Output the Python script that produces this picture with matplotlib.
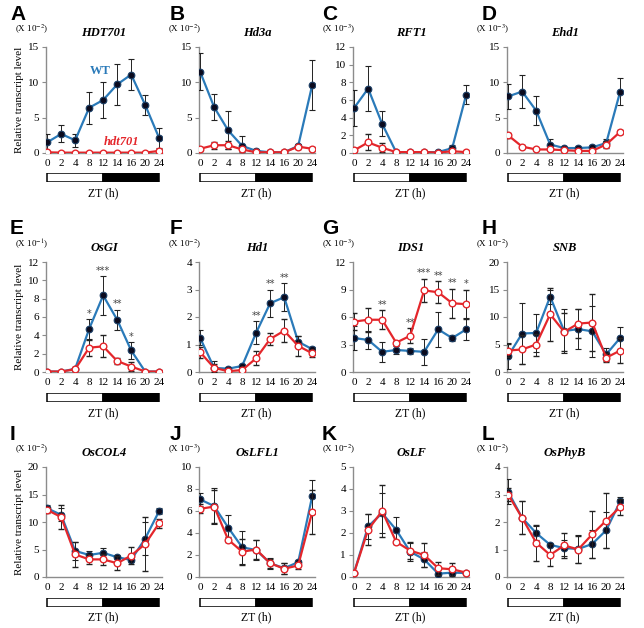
import matplotlib.pyplot as plt
import numpy as np

plt.rcParams['font.family'] = ['Liberation Serif', 'DejaVu Serif']
plt.rcParams['mathtext.fontset'] = 'stix'

# time points (ZT, hours) - plotted as equally spaced categories
zt = ['0', '2', '4', '8', '12', '14', '16', '20', '24']

letters = ['A', 'B', 'C', 'D', 'E', 'F', 'G', 'H', 'I', 'J', 'K', 'L']
genes = ['HDT701', 'Hd3a', 'RFT1', 'Ehd1', 'OsGI', 'Hd1',
         'IDS1', 'SNB', 'OsCOL4', 'OsLFL1', 'OsLF', 'OsPhyB']
exps = [-2, -2, -3, -3, -1, -2, -3, -2, -2, -3, -2, -2]
ymax = [15, 15, 12, 15, 12, 4, 12, 20, 20, 10, 5, 4]
ystep = [5, 5, 2, 5, 2, 1, 3, 5, 5, 2, 1, 1]

# A HDT701
hdt701_wt = [1.5, 2.7, 1.8, 6.4, 7.5, 9.7, 11.1, 6.8, 2.1]
hdt701_wt_err = [1.2, 1.2, 0.9, 2.3, 2.6, 2.9, 2.2, 1.4, 1.4]
hdt701_mut = [0.1, 0.05, 0.05, 0.05, 0.05, 0.05, 0.05, 0.05, 0.3]
hdt701_mut_err = [0.1, 0.05, 0.05, 0.05, 0.05, 0.05, 0.05, 0.05, 0.1]
# B Hd3a
hd3a_wt = [11.5, 6.5, 3.2, 1.0, 0.3, 0.1, 0.1, 1.0, 9.6]
hd3a_wt_err = [2.6, 1.8, 2.7, 1.4, 0.2, 0.1, 0.1, 0.3, 3.5]
hd3a_mut = [0.6, 1.1, 1.1, 0.5, 0.1, 0.1, 0.1, 0.9, 0.6]
hd3a_mut_err = [0.3, 0.5, 0.6, 0.3, 0.1, 0.1, 0.1, 0.3, 0.3]
# C RFT1
rft1_wt = [5.1, 7.3, 3.3, 0.1, 0.1, 0.1, 0.1, 0.55, 6.6]
rft1_wt_err = [2.0, 2.6, 1.4, 0.05, 0.05, 0.05, 0.05, 0.3, 1.1]
rft1_mut = [0.3, 1.2, 0.6, 0.1, 0.1, 0.1, 0.05, 0.2, 0.1]
rft1_mut_err = [0.2, 0.9, 0.5, 0.1, 0.05, 0.05, 0.05, 0.1, 0.1]
# D Ehd1
ehd1_wt = [8.0, 8.7, 6.0, 1.2, 0.7, 0.7, 0.8, 1.4, 8.7]
ehd1_wt_err = [1.8, 2.4, 2.1, 0.8, 0.2, 0.3, 0.4, 0.6, 1.9]
ehd1_mut = [2.5, 0.9, 0.5, 0.5, 0.4, 0.3, 0.3, 1.2, 3.0]
ehd1_mut_err = [0.4, 0.2, 0.1, 0.1, 0.1, 0.1, 0.1, 0.5, 0.3]
# E OsGI
osgi_wt = [0.05, 0.05, 0.35, 4.7, 8.35, 5.7, 2.35, 0.05, 0.05]
osgi_wt_err = [0.05, 0.05, 0.2, 1.05, 2.1, 1.1, 0.9, 0.05, 0.05]
osgi_mut = [0.05, 0.05, 0.3, 2.65, 2.8, 1.2, 0.6, 0.05, 0.05]
osgi_mut_err = [0.05, 0.05, 0.1, 0.85, 1.2, 0.3, 0.5, 0.05, 0.05]
osgi_stars = ['', '', '', '*', '***', '**', '*', '', '']
# F Hd1
hd1_wt = [1.24, 0.15, 0.12, 0.22, 1.43, 2.5, 2.72, 1.1, 0.83]
hd1_wt_err = [0.27, 0.25, 0.05, 0.08, 0.42, 0.5, 0.5, 0.2, 0.08]
hd1_mut = [0.72, 0.15, 0.03, 0.07, 0.5, 1.2, 1.5, 0.95, 0.68]
hd1_mut_err = [0.2, 0.15, 0.03, 0.1, 0.25, 0.22, 0.42, 0.35, 0.15]
hd1_stars = ['', '', '', '', '**', '**', '**', '', '']
# G IDS1
ids1_wt = [3.7, 3.5, 2.2, 2.4, 2.3, 2.2, 4.65, 3.7, 4.65]
ids1_wt_err = [1.3, 1.0, 1.1, 0.4, 0.3, 1.4, 1.95, 0.35, 1.2]
ids1_mut = [5.5, 5.7, 5.7, 3.2, 3.95, 8.9, 8.7, 7.5, 7.4]
ids1_mut_err = [0.9, 1.3, 1.05, 0.2, 0.8, 1.3, 1.2, 1.6, 1.6]
ids1_stars = ['', '', '**', '', '**', '***', '**', '**', '*']
# H SNB
snb_wt = [2.9, 7.0, 7.1, 13.7, 7.45, 7.8, 7.4, 3.2, 6.2]
snb_wt_err = [2.3, 5.6, 3.5, 1.3, 4.0, 3.7, 4.6, 1.2, 2.0]
snb_mut = [3.9, 4.1, 5.0, 10.5, 7.3, 8.8, 9.0, 2.6, 3.9]
snb_mut_err = [1.2, 2.7, 2.0, 4.8, 3.5, 2.6, 5.2, 0.8, 2.3]
# I OsCOL4
oscol4_wt = [12.5, 11.3, 4.75, 4.0, 4.4, 3.6, 3.1, 7.0, 12.0]
oscol4_wt_err = [0.6, 1.2, 1.7, 0.8, 0.9, 0.4, 0.3, 3.0, 0.5]
oscol4_mut = [12.2, 10.9, 4.1, 3.2, 3.2, 2.5, 3.9, 6.0, 9.8]
oscol4_mut_err = [0.5, 2.2, 2.3, 0.9, 1.0, 1.3, 1.5, 4.9, 0.8]
# J OsLFL1
oslfl1_wt = [7.05, 6.45, 4.5, 2.7, 2.45, 1.25, 0.8, 1.35, 7.35]
oslfl1_wt_err = [0.6, 1.6, 1.1, 1.5, 0.9, 0.5, 0.5, 0.2, 1.5]
oslfl1_mut = [6.2, 6.4, 3.4, 2.3, 2.5, 1.25, 0.75, 1.05, 5.9]
oslfl1_mut_err = [0.4, 1.5, 0.2, 1.2, 0.9, 0.4, 0.5, 0.3, 2.0]
# K OsLF
oslf_wt = [0.2, 2.3, 2.9, 2.15, 1.15, 0.8, 0.15, 0.2, 0.18]
oslf_wt_err = [0.05, 0.55, 0.9, 0.6, 0.4, 0.35, 0.1, 0.1, 0.05]
oslf_mut = [0.2, 2.15, 3.0, 1.6, 1.2, 1.0, 0.4, 0.35, 0.2]
oslf_mut_err = [0.05, 0.7, 1.2, 0.1, 0.4, 0.55, 0.3, 0.3, 0.05]
# L OsPhyB
osphyb_wt = [3.1, 2.15, 1.6, 1.17, 1.05, 1.02, 1.2, 1.7, 2.75]
osphyb_wt_err = [0.45, 0.6, 0.25, 0.05, 0.3, 0.5, 0.5, 0.65, 0.15]
osphyb_mut = [3.0, 2.15, 1.25, 0.8, 1.15, 1.0, 1.55, 2.05, 2.55]
osphyb_mut_err = [0.25, 0.6, 0.65, 0.4, 0.45, 0.5, 0.85, 1.0, 0.3]

wt_all = [hdt701_wt, hd3a_wt, rft1_wt, ehd1_wt, osgi_wt, hd1_wt,
          ids1_wt, snb_wt, oscol4_wt, oslfl1_wt, oslf_wt, osphyb_wt]
wt_err_all = [hdt701_wt_err, hd3a_wt_err, rft1_wt_err, ehd1_wt_err, osgi_wt_err, hd1_wt_err,
              ids1_wt_err, snb_wt_err, oscol4_wt_err, oslfl1_wt_err, oslf_wt_err, osphyb_wt_err]
mut_all = [hdt701_mut, hd3a_mut, rft1_mut, ehd1_mut, osgi_mut, hd1_mut,
           ids1_mut, snb_mut, oscol4_mut, oslfl1_mut, oslf_mut, osphyb_mut]
mut_err_all = [hdt701_mut_err, hd3a_mut_err, rft1_mut_err, ehd1_mut_err, osgi_mut_err, hd1_mut_err,
               ids1_mut_err, snb_mut_err, oscol4_mut_err, oslfl1_mut_err, oslf_mut_err, osphyb_mut_err]
stars_all = {4: osgi_stars, 5: hd1_stars, 6: ids1_stars}

BLUE = '#2a7ab9'
RED = '#e4262b'
GRAY = '#8c8c8c'

W, H = 644, 628
fig = plt.figure(figsize=(W / 100, H / 100), dpi=100)

col_left = [46, 199, 353, 507]
letter_dx = [36, 29, 31, 25]
ax_w = 116
row_top = [47, 262, 467]
row_h = [106, 110, 110]
bar_top = [173, 393, 598]
bar_h = 9
zt_y = [193, 413, 617]

x = np.arange(len(zt))
xlim = (-0.08, 8.2)

for i in range(12):
    r, c = divmod(i, 4)
    left = col_left[c] / W
    ax = fig.add_axes([left, 1 - (row_top[r] + row_h[r]) / H, ax_w / W, row_h[r] / H])

    ax.errorbar(x, wt_all[i], yerr=wt_err_all[i], color=BLUE, lw=1.6,
                marker='o', ms=4.8, mfc='#0b0b1e', mec='#1b3f66', mew=0.8,
                ecolor='#222222', elinewidth=0.7, capsize=2.2, capthick=0.7, zorder=3)
    ax.errorbar(x, mut_all[i], yerr=mut_err_all[i], color=RED, lw=1.6,
                marker='o', ms=4.8, mfc='white', mec=RED, mew=1.0,
                ecolor='#222222', elinewidth=0.7, capsize=2.2, capthick=0.7, zorder=4)

    if i in stars_all:
        for j, s in enumerate(stars_all[i]):
            if s:
                top = max(wt_all[i][j] + wt_err_all[i][j], mut_all[i][j] + mut_err_all[i][j])
                ax.text(x[j], top + ymax[i] * 0.005, s, ha='center', va='bottom',
                        fontsize=7, color='#444444', fontfamily='DejaVu Sans')

    ax.set_xlim(*xlim)
    ax.set_ylim(0, ymax[i])
    ax.set_yticks(np.arange(0, ymax[i] + 0.01, ystep[i]))
    ax.set_xticks(x)
    ax.set_xticklabels(zt)
    for sp in ['top', 'right']:
        ax.spines[sp].set_visible(False)
    for sp in ['left', 'bottom']:
        ax.spines[sp].set_color(GRAY)
        ax.spines[sp].set_linewidth(1.0)
    ax.tick_params(axis='y', length=3, width=0.8, color=GRAY, labelsize=8, pad=2)
    ax.tick_params(axis='x', length=0, labelsize=8, pad=4)

    ax.text(0.5, 1.075, genes[i], transform=ax.transAxes, ha='center', va='bottom',
            fontsize=9, fontweight='bold', fontstyle='italic')
    ax.text(-0.12, 1.1, '(X 10$^{%d}$)' % exps[i], transform=ax.transAxes,
            ha='center', va='bottom', fontsize=6.5)
    fig.text((col_left[c] - letter_dx[c]) / W, 1 - (row_top[r] - 33) / H, letters[i],
             ha='left', va='center', fontsize=15, fontweight='bold',
             fontfamily='Liberation Sans')
    if c == 0:
        ax.set_ylabel('Relative transcript level', fontsize=8, labelpad=3)

    # light / dark bar
    bx = fig.add_axes([left, 1 - (bar_top[r] + bar_h) / H, ax_w / W, bar_h / H])
    bx.broken_barh([(0, 4), (4, 4)], (0, 1), facecolors=['white', 'black'],
                   edgecolor='black', linewidth=1.1)
    bx.set_xlim(*xlim)
    bx.set_ylim(-0.05, 1.05)
    bx.axis('off')
    fig.text((col_left[c] + 4 * (ax_w / (xlim[1] - xlim[0])) + 1) / W, 1 - zt_y[r] / H,
             'ZT (h)', ha='center', va='center', fontsize=8.5)

    if i == 0:
        ax.text(3.8, 11.6, 'WT', color=BLUE, ha='center', va='center',
                fontsize=9, fontweight='bold')
        ax.text(5.3, 1.6, 'hdt701', color=RED, ha='center', va='center',
                fontsize=9, fontweight='bold', fontstyle='italic')

fig.savefig('out.png', dpi=100)
